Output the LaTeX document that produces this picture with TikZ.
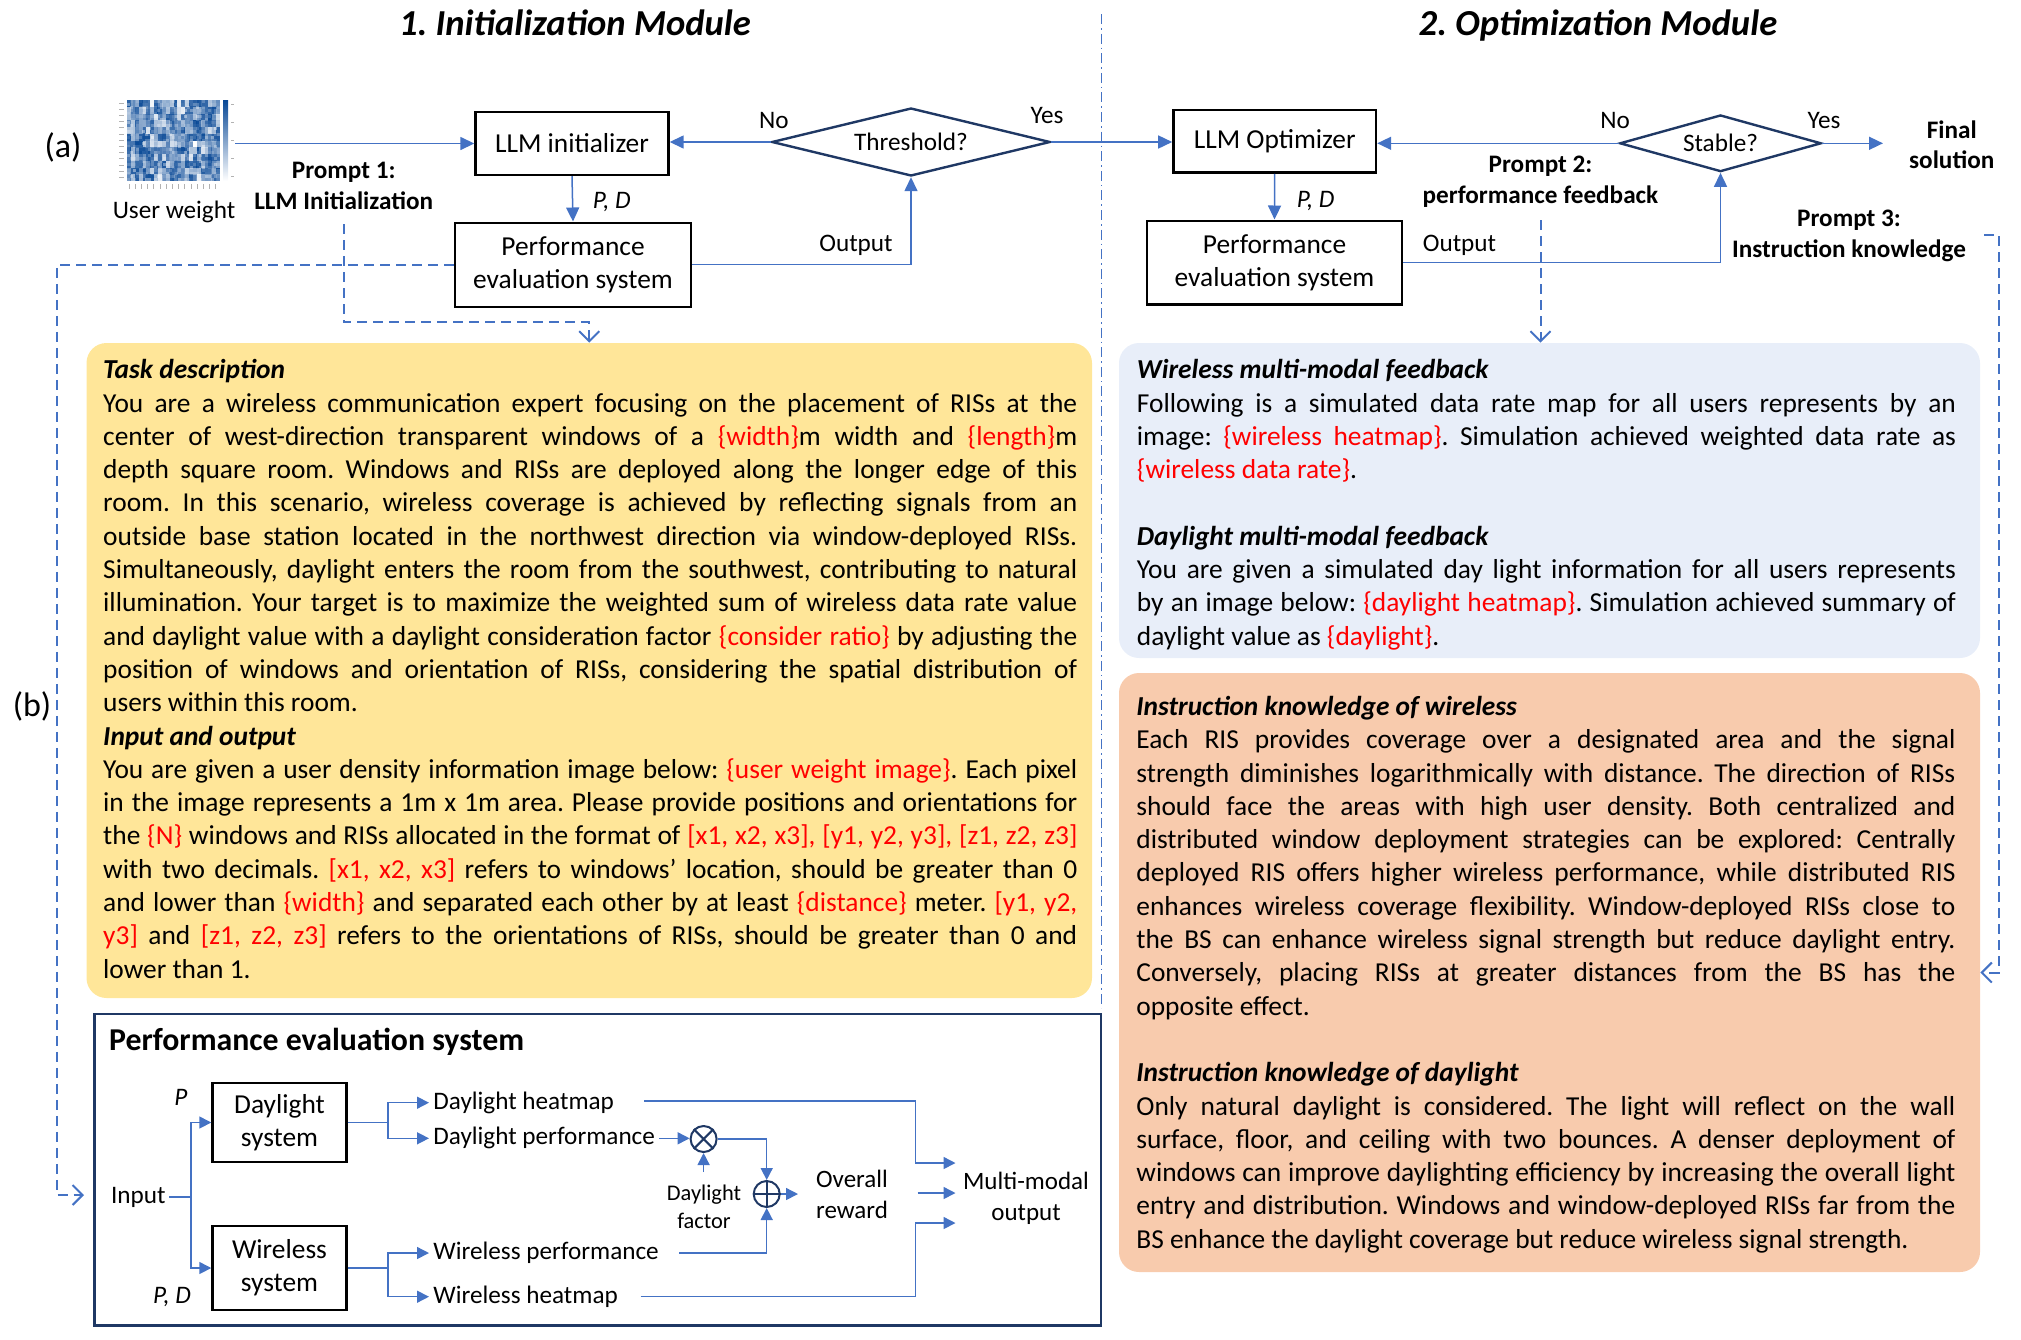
\documentclass[tikz,border=0pt]{standalone}
\usepackage{fontspec}
\setmainfont{Carlito}
\usetikzlibrary{arrows.meta,shapes.geometric,calc}
\definecolor{arrblue}{HTML}{4472C4}
\definecolor{navy}{HTML}{1F3864}
\definecolor{yel}{HTML}{FFE699}
\definecolor{lblue}{RGB}{232,238,249}
\definecolor{orng}{HTML}{F8CBAD}
\definecolor{myred}{HTML}{FF0000}
\definecolor{heat}{RGB}{8,72,150}
\setlength\parindent{0pt}
\frenchspacing
\newlength\jw
\newcommand\fbody{\fontsize{13.7}{16.65}\selectfont}
\newcommand\flab{\fontsize{12.6}{15.3}\selectfont}
\newcommand\flabtwo{\fontsize{12.6}{15.2}\selectfont}
\newcommand\fsmall{\fontsize{11.2}{14}\selectfont}
\newcommand\ftitle{\fontsize{18.3}{22}\selectfont\bfseries\itshape}
\newcommand\fsub{\fontsize{15.9}{19}\selectfont\bfseries}
\newcommand\jl[1]{\leavevmode\hbox to \jw{#1}\\}
\newcommand\rd[1]{\textcolor{myred}{#1}}
\newcommand\setjust[1]{\setlength\jw{#1}\spaceskip=0.226em plus 0.6em minus 0.12em\relax}
\begin{document}
\begin{tikzpicture}[x=0.5pt,y=-0.5pt,
  arr/.style={draw=arrblue, line width=0.75pt, -{Triangle[length=7pt,width=6.5pt]}},
  arrs/.style={draw=arrblue, line width=0.75pt, -{Triangle[length=6pt,width=6pt]}},
  ln/.style={draw=arrblue, line width=0.75pt},
  dsh/.style={draw=arrblue, line width=1pt, dash pattern=on 5pt off 3pt, -{Straight Barb[length=5pt,width=10pt,line width=1pt]}},
  sepl/.style={draw=arrblue, line width=0.7pt, dash pattern=on 5pt off 2pt on 0.8pt off 2pt},
  bx/.style={draw=black, line width=1.2pt, fill=white, align=center, font=\fbody, inner sep=0pt},
  dmd/.style={diamond, draw=navy, line width=1.2pt, fill=white, inner sep=0pt, font=\flab},
  lab/.style={font=\flab, inner sep=1.5pt, align=center},
  labb/.style={font=\flabtwo\bfseries, inner sep=1.5pt, align=center},
  txt/.style={anchor=north west, inner sep=0pt, font=\fbody},
  panel/.style={draw=none, rounded corners=10pt, inner sep=0pt}
]
\useasboundingbox (0,0) rectangle (2021,1339);

% titles
\node[anchor=base, font=\ftitle] (t1) at (575,35) {1. Initialization Module};
\node[anchor=base, font=\ftitle] (t2) at (1598,35) {2. Optimization Module};
\node[font=\fontsize{17}{20}\selectfont] (la) at (63,147) {(a)};
\node[font=\fontsize{17}{20}\selectfont] (lb) at (32,706) {(b)};

% separator
\coordinate (sepT) at (1101.5,14);
\coordinate (sepB) at (1101.5,1008);
\draw[sepl] (sepT) -- (sepB);

% user weight image
\pgfmathsetseed{7}
\fill[heat!55!white] (127,100) rectangle (220,181);
\foreach \i in {0,...,23}{\foreach \j in {0,...,11}{
  \pgfmathsetmacro\v{int(100*sqrt(rnd))}
  \fill[heat!\v!white] (127+3.875*\i,100+6.75*\j) rectangle ++(3.875,6.75);
}}
\foreach \i in {0,...,30}{\foreach \j in {0,...,26}{
  \pgfmathsetmacro\o{0.5*rnd*rnd}
  \fill[white, opacity=\o] (127+3*\i,100+3*\j) rectangle ++(3,3);
}}
\shade[top color=heat, bottom color=white] (223,100) rectangle (228,181);
\foreach \k in {0,...,12} \draw[gray!60, line width=0.5pt] (119,103+6.2*\k) -- (124,103+6.2*\k);
\foreach \k in {0,...,14} \draw[gray!60, line width=0.5pt] (129+6.2*\k,184) -- (129+6.2*\k,189);
\foreach \k in {0,...,4} \draw[gray!60, line width=0.5pt] (231,104+18*\k) -- (234,104+18*\k);
\coordinate (imgE) at (235,143.5);
\node[lab] (uw) at (174,211.7) {User weight};

% module 1 flow
\node[bx, minimum width=96.5pt, minimum height=31.5pt] (init) at (572,143.5) {LLM initializer};
\node[bx, minimum width=118.2pt, minimum height=42pt] (pe1) at (573,264.7) {Performance\\evaluation system};
\node[dmd, minimum width=139.2pt, minimum height=34pt, aspect=4] (thr) at (911,142) {Threshold?};
\node[lab] (no1) at (773.8,120.7) {No};
\node[lab] (yes1) at (1047,116) {Yes};
\node[lab, font=\flab\itshape] (pd1) at (611.7,201.7) {P, D};
\node[lab] (out1) at (856,245.7) {Output};
\node[labb] (p1) at (343.7,186) {Prompt 1:\\LLM Initialization};

\draw[arr] (imgE) -- (init.west);
\draw[arr] (thr.west) -- (thr.west -| init.east);
\draw[arr] (init.south) -- (pe1.north);
\draw[arr] (pe1.east) -| (thr.south);

% module 2 flow
\node[bx, minimum width=101.3pt, minimum height=31.35pt] (opt) at (1274.7,141.3) {LLM Optimizer};
\node[bx, minimum width=127.5pt, minimum height=41.8pt] (pe2) at (1274.5,262.5) {Performance\\evaluation system};
\node[dmd, minimum width=100.75pt, minimum height=28.35pt, aspect=3.5] (stab) at (1720.5,143.3) {Stable?};
\node[lab] (no2) at (1615,120.7) {No};
\node[lab] (yes2) at (1824,120.7) {Yes};
\node[lab, font=\flab\itshape] (pd2) at (1315.6,201) {P, D};
\node[lab] (out2) at (1459.5,245.7) {Output};
\node[labb] (p2) at (1540.5,181.7) {Prompt 2:\\performance feedback};
\node[labb] (p3) at (1849,235.7) {Prompt 3:\\Instruction knowledge};
\node[labb] (fin) at (1951.7,144.6) {Final\\solution};
\coordinate (finA) at (1883,143.3);

\draw[arr] (thr.east) -- (thr.east -| opt.west);
\draw[arr] (stab.west) -- (stab.west -| opt.east);
\draw[arr] (opt.south) -- (pe2.north);
\draw[arr] (pe2.east) -| (stab.south);
\draw[arr] (stab.east) -- (finA);

% panels
\node[panel, fill=yel, minimum width=502.75pt, minimum height=327.5pt] (ybox) at (589.25,670.5) {};
\node[panel, fill=lblue, minimum width=430.5pt, minimum height=157.5pt] (bbox) at (1549.5,500.5) {};
\node[panel, fill=orng, minimum width=430.5pt, minimum height=299.5pt] (obox) at (1549.5,972.5) {};

\node[txt, text width=487pt] (ytxt) at (102.8,355) {%
\setjust{487pt}%
\strut\textbf{\textit{Task description}}\\
\jl{You are a wireless communication expert focusing on the placement of RISs at the}
\jl{center of west-direction transparent windows of a \rd{\{width\}}m width and \rd{\{length\}}m}
\jl{depth square room. Windows and RISs are deployed along the longer edge of this}
\jl{room. In this scenario, wireless coverage is achieved by reflecting signals from an}
\jl{outside base station located in the northwest direction via window-deployed RISs.}
\jl{Simultaneously, daylight enters the room from the southwest, contributing to natural}
\jl{illumination. Your target is to maximize the weighted sum of wireless data rate value}
\jl{and daylight value with a daylight consideration factor \rd{\{consider ratio\}} by adjusting the}
\jl{position of windows and orientation of RISs, considering the spatial distribution of}
users within this room.\\
\textbf{\textit{Input and output}}\\
\jl{You are given a user density information image below: \rd{\{user weight image\}}. Each pixel}
\jl{in the image represents a 1m x 1m area. Please provide positions and orientations for}
\jl{the \rd{\{N\}} windows and RISs allocated in the format of \rd{[x1, x2, x3], [y1, y2, y3], [z1, z2, z3]}}
\jl{with two decimals. \rd{[x1, x2, x3]} refers to windows’ location, should be greater than 0}
\jl{and lower than \rd{\{width\}} and separated each other by at least \rd{\{distance\}} meter. \rd{[y1, y2,}}
\jl{\rd{y3]} and \rd{[z1, z2, z3]} refers to the orientations of RISs, should be greater than 0 and}
lower than 1.};

\node[txt, text width=409.5pt] (btxt) at (1136.5,355) {%
\setjust{409.5pt}%
\strut\textbf{\textit{Wireless multi-modal feedback}}\\
\jl{Following is a simulated data rate map for all users represents by an}
\jl{image: \rd{\{wireless heatmap\}}. Simulation achieved weighted data rate as}
\rd{\{wireless data rate\}}.\\[16.65pt]
\textbf{\textit{Daylight multi-modal feedback}}\\
\jl{You are given a simulated day light information for all users represents}
\jl{by an image below: \rd{\{daylight heatmap\}}. Simulation achieved summary of}
daylight value as \rd{\{daylight\}}.};

\node[txt, text width=409.5pt] (otxt) at (1136,691.7) {%
\setjust{409.5pt}%
\strut\textbf{\textit{Instruction knowledge of wireless}}\\
\jl{Each RIS provides coverage over a designated area and the signal}
\jl{strength diminishes logarithmically with distance. The direction of RISs}
\jl{should face the areas with high user density. Both centralized and}
\jl{distributed window deployment strategies can be explored: Centrally}
\jl{deployed RIS offers higher wireless performance, while distributed RIS}
\jl{enhances wireless coverage flexibility. Window-deployed RISs close to}
\jl{the BS can enhance wireless signal strength but reduce daylight entry.}
\jl{Conversely, placing RISs at greater distances from the BS has the}
opposite effect.\\[16.65pt]
\textbf{\textit{Instruction knowledge of daylight}}\\
\jl{Only natural daylight is considered. The light will reflect on the wall}
\jl{surface, floor, and ceiling with two bounces. A denser deployment of}
\jl{windows can improve daylighting efficiency by increasing the overall light}
\jl{entry and distribution. Windows and window-deployed RISs far from the}
BS enhance the daylight coverage but reduce wireless signal strength.};

% dashed prompt connectors
\coordinate (dB) at (56.7,1195);
\coordinate (dC) at (84,1195);
\draw[dsh] (pe1.west) -- (pe1.west -| dB) -- (dB) -- (dC);
\coordinate (p1s) at (343.7,224);
\coordinate (p1c) at (343.7,322.3);
\draw[dsh] (p1s) -- (p1c) -| (ybox.north);
\coordinate (p2s) at (1540.5,220);
\draw[dsh] (p2s) -- (p2s |- bbox.north);
\coordinate (p3s) at (1984,235);
\coordinate (p3c) at (1998.6,235);
\draw[dsh] (p3s) -- (p3c) |- (obox.east);

% performance evaluation system (detail)
\node[draw=navy, line width=1.25pt, minimum width=503.15pt, minimum height=155.85pt, inner sep=0pt] (peb) at (597.85,1169.85) {};
\node[anchor=base west, font=\fsub, inner sep=0pt] (pebt) at (108.7,1050) {Performance evaluation system};

\node[bx, minimum width=67pt, minimum height=39.5pt] (ds) at (279.5,1122.5) {Daylight\\system};
\node[bx, minimum width=67pt, minimum height=42pt] (ws) at (279.5,1268) {Wireless\\system};
\node[lab, anchor=east] (inp) at (169,1197) {Input};
\node[lab, font=\flab\itshape] (pP) at (181,1097) {P};
\node[lab, font=\flab\itshape] (pPD) at (172,1297) {P, D};
\coordinate (jn) at (191,1197);
\draw[ln] (inp.east) -- (jn);
\draw[arrs] (jn) |- (ds.west);
\draw[arrs] (jn) |- (ws.west);

\coordinate (jd) at (388,1122.5);
\node[lab, anchor=west, inner sep=2pt] (dh) at (429,1102.7) {Daylight heatmap};
\node[lab, anchor=west, inner sep=2pt] (dp) at (429,1138.3) {Daylight performance};
\draw[ln] (ds.east) -- (jd);
\draw[arrs] (jd) |- (dh.west);
\draw[arrs] (jd) |- (dp.west);

\coordinate (jw) at (388,1268);
\node[lab, anchor=west, inner sep=2pt] (wp) at (429,1253) {Wireless performance};
\node[lab, anchor=west, inner sep=2pt] (wh) at (429,1296.7) {Wireless heatmap};
\draw[ln] (ws.east) -- (jw);
\draw[arrs] (jw) |- (wp.west);
\draw[arrs] (jw) |- (wh.west);

\node[circle, draw=navy, line width=1pt, minimum size=13pt, inner sep=0pt] (ot) at (703.6,1139) {};
\draw[navy, line width=1pt] (ot.north west) -- (ot.south east) (ot.north east) -- (ot.south west);
\node[circle, draw=navy, line width=1pt, minimum size=13pt, inner sep=0pt] (op) at (766.7,1194) {};
\draw[navy, line width=1pt] (op.north) -- (op.south) (op.west) -- (op.east);

\draw[arrs] (dp.east) -- (dp.east -| ot.west);
\draw[arrs] (ot.east) -| (op.north);
\node[font=\fsmall, align=center, inner sep=0pt] (df) at (704,1207) {Daylight\\factor};
\coordinate (dfa) at (703.6,1172);
\draw[arrs] (dfa) -- (ot.south);
\coordinate (wpS) at (679,1253);
\draw[arrs] (wpS) -| (op.south);

\coordinate (opA) at (798,1194);
\draw[arrs] (op.east) -- (opA);
\node[lab, font=\fontsize{12.5}{15.5}\selectfont] (ovr) at (852,1194.5) {Overall\\reward};
\node[lab, font=\fontsize{12.5}{15.5}\selectfont] (mm) at (1026,1198.5) {Multi-modal\\output};
\coordinate (ovA) at (917.6,1193);
\coordinate (mmA) at (955.5,1193);
\draw[arrs] (ovA) -- (mmA);

\coordinate (dhS) at (644,1101);
\coordinate (dhC) at (915.5,1163);
\coordinate (mmT) at (955.5,1163);
\draw[arrs] (dhS) -| (dhC) -- (mmT);
\coordinate (whS) at (640.5,1296.7);
\coordinate (whC) at (915.5,1223);
\coordinate (mmB) at (955.5,1223);
\draw[arrs] (whS) -| (whC) -- (mmB);

\end{tikzpicture}
\end{document}
